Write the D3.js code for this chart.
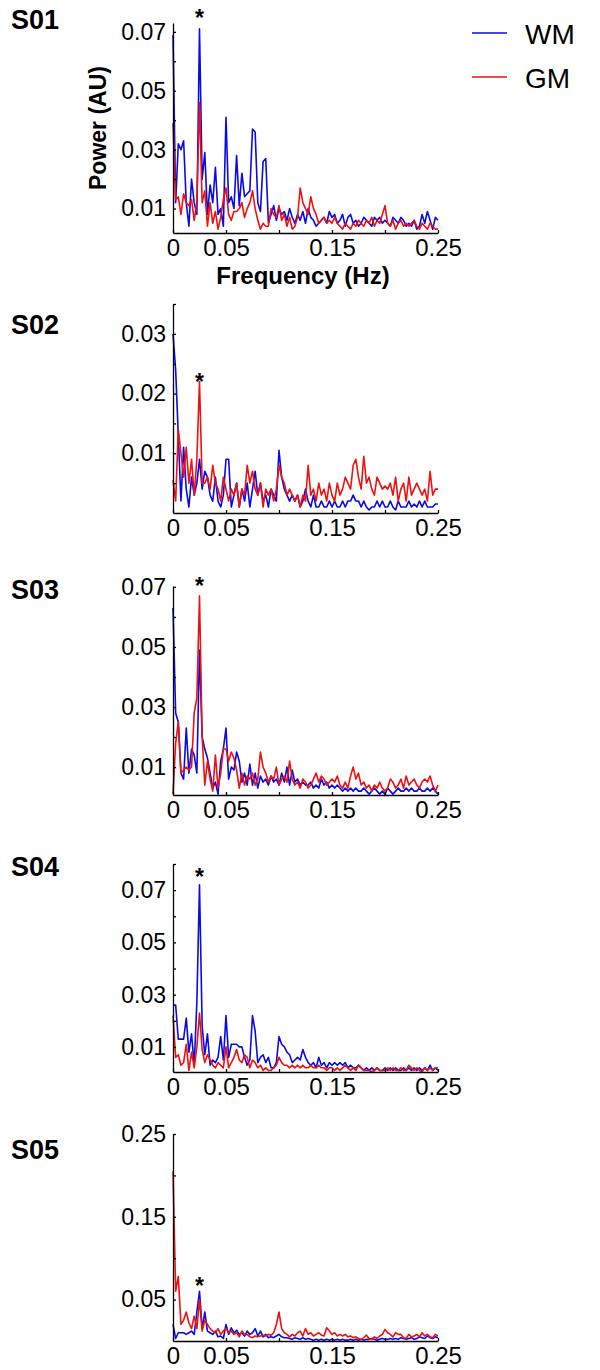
<!DOCTYPE html>
<html>
<head>
<meta charset="utf-8">
<script src="https://cdn.jsdelivr.net/npm/d3@7"></script>
<style>
body { margin: 0; background: #fff; }
svg { display: block; font-family: "Liberation Sans", Arial, sans-serif; }
</style>
</head>
<body>
<div id="chart"></div>
<script>
// power spectra, one value every 0.0025 Hz from 0 to 0.25 Hz
var freqStep = 0.0025;

var wm01 = [
0.069, 0.012, 0.032, 0.030, 0.033, 0.012, 0.004, 0.020, 0.012, 0.008,
0.071, 0.020, 0.029, 0.008, 0.018, 0.012, 0.024, 0.008, 0.010, 0.004,
0.041, 0.012, 0.014, 0.010, 0.028, 0.011, 0.022, 0.014, 0.015, 0.016,
0.037, 0.036, 0.012, 0.009, 0.026, 0.027, 0.005, 0.008, 0.011, 0.006,
0.010, 0.008, 0.009, 0.006, 0.010, 0.007, 0.005, 0.008, 0.006, 0.009,
0.005, 0.010, 0.007, 0.006, 0.004, 0.005, 0.006, 0.007, 0.005, 0.009,
0.007, 0.008, 0.005, 0.006, 0.008, 0.004, 0.007, 0.008, 0.005, 0.006,
0.004, 0.005, 0.007, 0.006, 0.005, 0.004, 0.007, 0.006, 0.007, 0.005,
0.006, 0.005, 0.004, 0.007, 0.006, 0.005, 0.007, 0.006, 0.004, 0.005,
0.004, 0.006, 0.003, 0.004, 0.008, 0.005, 0.009, 0.006, 0.003, 0.007,
0.006];
var gm01 = [
0.039, 0.013, 0.014, 0.008, 0.015, 0.012, 0.011, 0.013, 0.006, 0.012,
0.046, 0.012, 0.016, 0.004, 0.012, 0.005, 0.009, 0.003, 0.007, 0.013,
0.017, 0.008, 0.006, 0.009, 0.009, 0.010, 0.012, 0.007, 0.010, 0.012,
0.016, 0.010, 0.006, 0.003, 0.005, 0.004, 0.004, 0.010, 0.008, 0.007,
0.011, 0.006, 0.008, 0.004, 0.007, 0.003, 0.004, 0.007, 0.017, 0.012,
0.010, 0.008, 0.014, 0.010, 0.008, 0.005, 0.006, 0.007, 0.005, 0.006,
0.005, 0.007, 0.005, 0.004, 0.003, 0.005, 0.004, 0.003, 0.005, 0.004,
0.006, 0.005, 0.004, 0.006, 0.005, 0.007, 0.004, 0.006, 0.005, 0.008,
0.011, 0.005, 0.004, 0.006, 0.003, 0.005, 0.006, 0.004, 0.005, 0.004,
0.005, 0.006, 0.004, 0.003, 0.005, 0.004, 0.003, 0.005, 0.004, 0.003,
0.003];

var wm02 = [
0.030, 0.024, 0.013, 0.002, 0.011, 0.004, 0.001, 0.006, 0.003, 0.005,
0.009, 0.004, 0.007, 0.006, 0.003, 0.002, 0.006, 0.002, 0.001, 0.003,
0.009, 0.009, 0.001, 0.003, 0.005, 0.001, 0.004, 0.002, 0.005, 0.001,
0.004, 0.007, 0.003, 0.005, 0.002, 0.003, 0.001, 0.004, 0.003, 0.002,
0.0105, 0.006, 0.004, 0.003, 0.002, 0.003, 0.002, 0.003, 0.001, 0.002,
0.004, 0.002, 0.001, 0.003, 0.001, 0.001, 0.002, 0.001, 0.001, 0.002,
0.001, 0.002, 0.001, 0.001, 0.002, 0.001, 0.002, 0.002, 0.003, 0.002,
0.002, 0.001, 0.002, 0.001, 0.0005, 0.001, 0.001, 0.002, 0.001, 0.002,
0.001, 0.001, 0.002, 0.001, 0.0005, 0.002, 0.001, 0.001, 0.001, 0.002,
0.001, 0.0015, 0.001, 0.002, 0.001, 0.002, 0.001, 0.001, 0.001, 0.0015,
0.0015];
var gm02 = [
0.0055, 0.002, 0.014, 0.010, 0.006, 0.011, 0.005, 0.009, 0.003, 0.009,
0.022, 0.005, 0.005, 0.006, 0.004, 0.008, 0.005, 0.004, 0.002, 0.006,
0.004, 0.002, 0.004, 0.003, 0.005, 0.001, 0.004, 0.003, 0.008, 0.005,
0.007, 0.004, 0.003, 0.005, 0.001, 0.004, 0.003, 0.004, 0.002, 0.004,
0.008, 0.006, 0.005, 0.003, 0.004, 0.003, 0.002, 0.003, 0.001, 0.003,
0.002, 0.008, 0.003, 0.004, 0.002, 0.005, 0.003, 0.004, 0.002, 0.005,
0.003, 0.002, 0.005, 0.003, 0.004, 0.006, 0.005, 0.004, 0.008, 0.009,
0.006, 0.004, 0.0095, 0.005, 0.006, 0.004, 0.003, 0.006, 0.005, 0.004,
0.0045, 0.004, 0.005, 0.003, 0.006, 0.002, 0.004, 0.005, 0.002, 0.006,
0.003, 0.004, 0.005, 0.004, 0.003, 0.004, 0.002, 0.007, 0.003, 0.004,
0.004];

var wm03 = [
0.063, 0.028, 0.025, 0.008, 0.006, 0.023, 0.008, 0.016, 0.014, 0.008,
0.049, 0.020, 0.016, 0.013, 0.008, 0.003, 0.005, 0.001, 0.012, 0.016,
0.023, 0.006, 0.010, 0.009, 0.015, 0.012, 0.005, 0.008, 0.004, 0.011,
0.004, 0.008, 0.003, 0.007, 0.005, 0.006, 0.004, 0.007, 0.005, 0.006,
0.004, 0.008, 0.005, 0.010, 0.004, 0.009, 0.005, 0.006, 0.004, 0.005,
0.004, 0.004, 0.005, 0.003, 0.004, 0.003, 0.006, 0.004, 0.005, 0.003,
0.004, 0.003, 0.004, 0.003, 0.002, 0.003, 0.002, 0.003, 0.002, 0.003,
0.002, 0.002, 0.003, 0.002, 0.001, 0.002, 0.003, 0.002, 0.001, 0.002,
0.001, 0.003, 0.002, 0.001, 0.002, 0.003, 0.002, 0.002, 0.003, 0.002,
0.003, 0.002, 0.002, 0.003, 0.002, 0.002, 0.003, 0.002, 0.003, 0.002,
0.001];
var gm03 = [
0.001, 0.018, 0.025, 0.008, 0.009, 0.010, 0.009, 0.010, 0.028, 0.033,
0.067, 0.020, 0.004, 0.012, 0.006, 0.002, 0.014, 0.003, 0.008, 0.016,
0.016, 0.012, 0.015, 0.013, 0.009, 0.003, 0.008, 0.004, 0.007, 0.006,
0.008, 0.004, 0.006, 0.015, 0.010, 0.008, 0.005, 0.007, 0.006, 0.010,
0.004, 0.006, 0.007, 0.005, 0.012, 0.006, 0.004, 0.005, 0.003, 0.006,
0.005, 0.003, 0.004, 0.006, 0.008, 0.005, 0.007, 0.006, 0.004, 0.005,
0.006, 0.005, 0.007, 0.004, 0.003, 0.005, 0.003, 0.007, 0.010, 0.006,
0.008, 0.004, 0.005, 0.003, 0.004, 0.002, 0.004, 0.003, 0.005, 0.003,
0.002, 0.003, 0.006, 0.005, 0.003, 0.004, 0.006, 0.003, 0.007, 0.004,
0.005, 0.006, 0.004, 0.003, 0.005, 0.006, 0.005, 0.007, 0.004, 0.002,
0.004];

var wm04 = [
0.026, 0.026, 0.013, 0.013, 0.013, 0.021, 0.008, 0.015, 0.003, 0.027,
0.072, 0.018, 0.007, 0.015, 0.003, 0.005, 0.004, 0.006, 0.014, 0.005,
0.022, 0.006, 0.011, 0.011, 0.011, 0.010, 0.010, 0.006, 0.003, 0.005,
0.022, 0.016, 0.004, 0.006, 0.007, 0.004, 0.006, 0.002, 0.002, 0.004,
0.014, 0.011, 0.010, 0.008, 0.007, 0.004, 0.005, 0.006, 0.005, 0.009,
0.006, 0.004, 0.003, 0.004, 0.002, 0.006, 0.003, 0.004, 0.002, 0.004,
0.003, 0.004, 0.003, 0.004, 0.003, 0.004, 0.002, 0.003, 0.002, 0.002,
0.003, 0.002, 0.001, 0.002, 0.001, 0.002, 0.001, 0.002, 0.001, 0.001,
0.002, 0.001, 0.002, 0.001, 0.002, 0.001, 0.001, 0.002, 0.001, 0.002,
0.001, 0.002, 0.001, 0.002, 0.001, 0.002, 0.001, 0.003, 0.001, 0.002,
0.001];
var gm04 = [
0.022, 0.006, 0.007, 0.003, 0.004, 0.011, 0.001, 0.008, 0.002, 0.010,
0.023, 0.009, 0.004, 0.007, 0.005, 0.003, 0.002, 0.004, 0.003, 0.002,
0.010, 0.002, 0.004, 0.006, 0.009, 0.005, 0.004, 0.007, 0.006, 0.002,
0.005, 0.004, 0.002, 0.003, 0.001, 0.002, 0.001, 0.001, 0.002, 0.003,
0.006, 0.004, 0.003, 0.003, 0.002, 0.003, 0.002, 0.003, 0.002, 0.003,
0.002, 0.002, 0.003, 0.002, 0.002, 0.003, 0.002, 0.002, 0.001, 0.002,
0.002, 0.001, 0.002, 0.001, 0.002, 0.003, 0.002, 0.001, 0.002, 0.001,
0.003, 0.002, 0.001, 0.001, 0.001, 0.0005, 0.001, 0.002, 0.001, 0.001,
0.001, 0.002, 0.001, 0.002, 0.001, 0.001, 0.002, 0.001, 0.001, 0.003,
0.002, 0.001, 0.002, 0.001, 0.0005, 0.002, 0.001, 0.002, 0.001, 0.002,
0.002];

var wm05 = [
0.020, 0.003, 0.010, 0.010, 0.010, 0.008, 0.010, 0.012, 0.008, 0.035,
0.060, 0.015, 0.035, 0.012, 0.010, 0.008, 0.012, 0.005, 0.006, 0.003,
0.020, 0.008, 0.016, 0.010, 0.013, 0.008, 0.010, 0.006, 0.012, 0.008,
0.010, 0.015, 0.006, 0.012, 0.005, 0.008, 0.004, 0.005, 0.004, 0.006,
0.008, 0.005, 0.004, 0.004, 0.003, 0.002, 0.004, 0.003, 0.002, 0.004,
0.002, 0.003, 0.002, 0.001, 0.002, 0.001, 0.002, 0.001, 0.002, 0.001,
0.002, 0.001, 0.002, 0.001, 0.002, 0.001, 0.001, 0.002, 0.001, 0.002,
0.001, 0.002, 0.001, 0.002, 0.002, 0.003, 0.002, 0.001, 0.002, 0.003,
0.002, 0.002, 0.003, 0.002, 0.003, 0.002, 0.004, 0.003, 0.002, 0.003,
0.004, 0.002, 0.003, 0.005, 0.004, 0.003, 0.006, 0.004, 0.003, 0.005,
0.004];
var gm05 = [
0.205, 0.060, 0.078, 0.020, 0.025, 0.035, 0.022, 0.015, 0.030, 0.015,
0.050, 0.012, 0.025, 0.020, 0.015, 0.012, 0.010, 0.015, 0.008, 0.012,
0.015, 0.010, 0.012, 0.008, 0.010, 0.005, 0.012, 0.008, 0.008, 0.005,
0.004, 0.006, 0.005, 0.006, 0.007, 0.006, 0.008, 0.007, 0.010, 0.020,
0.035, 0.015, 0.010, 0.008, 0.005, 0.008, 0.006, 0.010, 0.012, 0.006,
0.015, 0.008, 0.010, 0.006, 0.008, 0.010, 0.007, 0.006, 0.016, 0.012,
0.008, 0.010, 0.006, 0.008, 0.006, 0.008, 0.005, 0.006, 0.004, 0.005,
0.003, 0.002, 0.004, 0.007, 0.003, 0.002, 0.005, 0.003, 0.006, 0.008,
0.014, 0.010, 0.008, 0.005, 0.010, 0.008, 0.008, 0.004, 0.003, 0.008,
0.005, 0.006, 0.008, 0.005, 0.010, 0.006, 0.008, 0.005, 0.004, 0.008,
0.006];

var subjects = ["S01", "S02", "S03", "S04", "S05"];
var wmSeries = [wm01, wm02, wm03, wm04, wm05];
var gmSeries = [gm01, gm02, gm03, gm04, gm05];
var yDomains = [[0.0017, 0.073], [0, 0.035], [0.0007, 0.0703], [0.0004, 0.08], [0, 0.25]];
var yTicks = [
  [0.01, 0.02, 0.03, 0.04, 0.05, 0.06, 0.07],
  [0.005, 0.01, 0.015, 0.02, 0.025, 0.03, 0.035],
  [0.01, 0.02, 0.03, 0.04, 0.05, 0.06, 0.07],
  [0.01, 0.02, 0.03, 0.04, 0.05, 0.06, 0.07, 0.08],
  [0.05, 0.1, 0.15, 0.2, 0.25]
];
var yLabels = [
  [0.01, 0.03, 0.05, 0.07],
  [0.01, 0.02, 0.03],
  [0.01, 0.03, 0.05, 0.07],
  [0.01, 0.03, 0.05, 0.07],
  [0.05, 0.15, 0.25]
];
var xTicks = [0, 0.05, 0.1, 0.15, 0.2, 0.25];
var xLabels = [0, 0.05, 0.15, 0.25];
// asterisk marking the 0.025 Hz peak (centre of the mark, in power units)
var starFreq = 0.025;
var starValues = [0.0764, 0.0228, 0.072, 0.0769, 0.0725];
var legendNames = ["WM", "GM"];
var colors = ["#0a0ae6", "#ee1111"];

var width = 600;
var height = 1370;
var left = 173, right = 438;
var panelTop = [23, 304, 586, 864, 1134];
var panelBottom = [233, 513, 795, 1072, 1341];
var titleY = [29, 334, 599, 876, 1159];

var svg = d3.select("#chart").
append("svg").
attr("width", width).
attr("height", height);

var x = d3.scaleLinear().domain([0, 0.25]).range([left, right]);

subjects.forEach(function (name, p) {
   var y = d3.scaleLinear().domain(yDomains[p]).range([panelBottom[p], panelTop[p]]).clamp(true);
   var yFree = y.copy().clamp(false);
   var g = svg.append("g").attr("class", "panel");

   g.append("text").
   attr("x", 11).
   attr("y", titleY[p]).
   style("font-size", "27px").
   style("font-weight", "bold").
   text(name);

   var line = d3.line().
   x(function (d, i) {return x(i * freqStep);}).
   y(function (d) {return y(d);});

   [wmSeries[p], gmSeries[p]].forEach(function (series, k) {
      g.append("path").
      datum(series).
      attr("fill", "none").
      attr("stroke", colors[k]).
      attr("stroke-width", 1.6).
      attr("stroke-linejoin", "round").
      attr("d", line);
   });

   var xAxis = d3.axisBottom(x).
   tickValues(xTicks).
   tickSizeInner(-3).
   tickSizeOuter(0).
   tickPadding(6).
   tickFormat(function (d) {return xLabels.indexOf(d) >= 0 ? String(d) : "";});

   var yAxis = d3.axisLeft(y).
   tickValues(yTicks[p]).
   tickSizeInner(-3).
   tickSizeOuter(0).
   tickPadding(7).
   tickFormat(function (d) {return yLabels[p].indexOf(d) >= 0 ? String(d) : "";});

   var gx = g.append("g").
   attr("transform", "translate(0," + panelBottom[p] + ")").
   call(xAxis);
   gx.selectAll("text").style("font-size", "24px").style("font-family", "Liberation Sans, Arial, sans-serif").attr("fill", "#000");

   var gy = g.append("g").
   attr("transform", "translate(" + left + ",0)").
   call(yAxis);
   gy.selectAll("text").style("font-size", "23px").style("font-family", "Liberation Sans, Arial, sans-serif").attr("fill", "#000");

   g.selectAll(".domain, .tick line").attr("stroke", "#000").attr("stroke-width", 1.3);

   g.append("text").
   attr("x", x(starFreq)).
   attr("y", yFree(starValues[p]) + 13).
   attr("text-anchor", "middle").
   style("font-size", "23px").
   style("font-weight", "bold").
   text("*");

   if (p === 0) {
      g.append("text").
      attr("transform", "translate(106," + (panelTop[p] + panelBottom[p]) / 2 + ") rotate(-90)").
      attr("text-anchor", "middle").
      style("font-size", "23px").
      style("font-weight", "bold").
      text("Power (AU)");

      g.append("text").
      attr("x", 303).
      attr("y", 284).
      attr("text-anchor", "middle").
      style("font-size", "24px").
      style("font-weight", "bold").
      text("Frequency (Hz)");
   }
});

// legend
var legend = svg.append("g").attr("class", "legend");
legendNames.forEach(function (name, k) {
   var ly = 33 + k * 44;
   legend.append("line").
   attr("x1", 472).attr("x2", 507).
   attr("y1", ly).attr("y2", ly).
   attr("stroke", colors[k]).
   attr("stroke-width", 1.5);
   legend.append("text").
   attr("x", 525).
   attr("y", ly + 11).
   style("font-size", "28px").
   text(name);
});
</script>
</body>
</html>
